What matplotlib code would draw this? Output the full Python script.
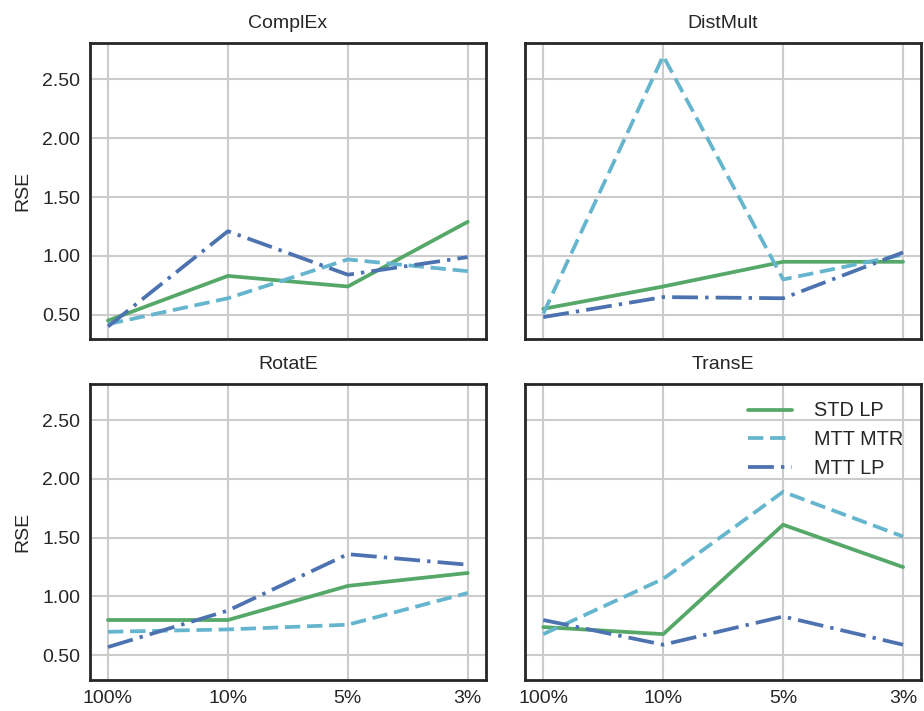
import numpy as np
import matplotlib
matplotlib.use("Agg")
import matplotlib.pyplot as plt
import seaborn as sns

sns.set_style("whitegrid")
plt.rcParams['font.family'] = ['Liberation Sans', 'DejaVu Sans']

# data
sizes = ['100%', '10%', '5%', '3%']
models = ['ComplEx', 'DistMult', 'RotatE', 'TransE']

std_lp = {
    'ComplEx': [0.45, 0.83, 0.74, 1.29],
    'DistMult': [0.55, 0.74, 0.95, 0.95],
    'RotatE': [0.80, 0.80, 1.09, 1.20],
    'TransE': [0.74, 0.68, 1.61, 1.25],
}
mtt_mtr = {
    'ComplEx': [0.42, 0.64, 0.97, 0.87],
    'DistMult': [0.51, 2.70, 0.80, 1.01],
    'RotatE': [0.70, 0.72, 0.76, 1.03],
    'TransE': [0.68, 1.15, 1.89, 1.51],
}
mtt_lp = {
    'ComplEx': [0.40, 1.21, 0.84, 0.99],
    'DistMult': [0.48, 0.65, 0.64, 1.03],
    'RotatE': [0.57, 0.88, 1.36, 1.27],
    'TransE': [0.80, 0.59, 0.83, 0.59],
}

green = '#55A868'
cyan = '#64B5CD'
blue = '#4C72B0'

fig, axes = plt.subplots(2, 2, figsize=(9.24, 7.11), dpi=100, sharex=True, sharey=True)
fig.subplots_adjust(left=0.0974, right=0.9968, top=0.9395, bottom=0.0436,
                    hspace=0.149, wspace=0.10)

x = np.arange(len(sizes))
for ax, m in zip(axes.flat, models):
    ax.plot(x, std_lp[m], color=green, lw=2.7, ls='-', label='STD LP')
    ax.plot(x, mtt_mtr[m], color=cyan, lw=2.7, ls=(0, (4.1, 1.8)), label='MTT MTR')
    ax.plot(x, mtt_lp[m], color=blue, lw=2.7, ls=(0, (6.9, 1.9, 0.9, 1.9)), label='MTT LP')
    ax.set_title(m, fontsize=14, pad=10.5)
    ax.grid(True, color='#cccccc', lw=1.5)
    for s in ax.spines.values():
        s.set_color('#262626')
        s.set_linewidth(2.0)
    ax.tick_params(length=0, labelsize=14, pad=7)

axes[0, 0].set_xlim(-0.15, 3.15)
axes[0, 0].set_ylim(0.29, 2.81)
axes[0, 0].set_yticks([0.5, 1.0, 1.5, 2.0, 2.5])
axes[0, 0].set_yticklabels(['0.50', '1.00', '1.50', '2.00', '2.50'])
axes[0, 0].set_xticks(x)
axes[0, 0].set_xticklabels(sizes)

axes[0, 0].set_ylabel('RSE', fontsize=14, labelpad=8)
axes[1, 0].set_ylabel('RSE', fontsize=14, labelpad=8)

axes[1, 1].legend(loc='upper right', frameon=False, fontsize=14.3, handlelength=2.2,
                  handletextpad=1.1, labelspacing=0.5, borderaxespad=0.5)

fig.savefig('out.png', dpi=100)
